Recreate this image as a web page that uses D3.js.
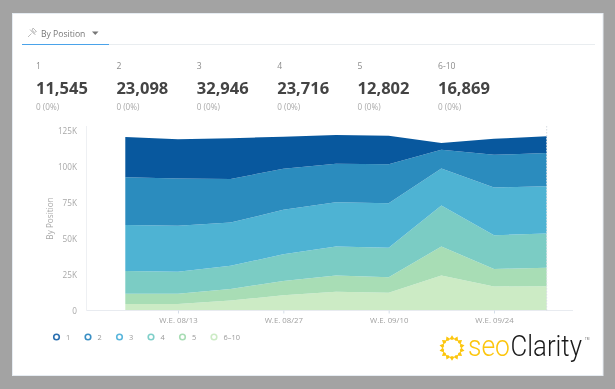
<!DOCTYPE html>
<html><head><meta charset="utf-8">
<script src="https://cdn.jsdelivr.net/npm/d3@7"></script>
<style>
html,body{margin:0;padding:0;background:#a3a3a3;overflow:hidden}
svg{display:block;filter:blur(0.55px)}
text{font-family:"Open Sans",sans-serif}
</style></head><body>
<svg id="c" width="615" height="389"></svg>
<script>
const weeks = ["08/06","08/13","08/20","08/27","09/03","09/10","09/17","09/24","10/01"];
const tickWeeks = ["08/13","08/27","09/10","09/24"];
const seriesNames = ["6-10","5","4","3","2","1"];
const legendNames = ["1","2","3","4","5","6–10"];
const s610 = [4.6,4.6,6.9,10.6,13.0,12.3,24.3,16.7,16.869];
const s5   = [7.0,7.0,8.1,9.8,11.3,10.8,20.1,12.2,12.802];
const s4   = [15.9,15.3,16.0,18.7,20.1,20.4,28.5,23.4,23.716];
const s3   = [31.8,31.9,30.1,30.8,30.8,31.0,25.7,33.1,32.946];
const s2   = [33.3,32.9,30.3,28.5,26.7,27.1,13.0,22.7,23.098];
const s1   = [27.8,27.3,28.3,22.2,19.9,19.7,4.8,11.1,11.545];
const colors = ["#ccebc5","#a8ddb5","#7bccc4","#4eb3d3","#2b8cbe","#08589e"];
const legendColors = ["#2a6fb0","#3a8fc4","#5ab6dc","#7fcfc9","#a8ddb5","#ccebc5"];
const summaryLabels = ["1","2","3","4","5","6-10"];
const summaryValues = ["11,545","23,098","32,946","23,716","12,802","16,869"];
const summaryChange = ["0 (0%)","0 (0%)","0 (0%)","0 (0%)","0 (0%)","0 (0%)"];
const yTicks = [0,25,50,75,100,125];

const svg = d3.select("#c");
// card
svg.append("rect").attr("x",12.5).attr("y",13.5).attr("width",590.5).attr("height",362)
  .attr("fill","#fff").attr("stroke","#e6ecf2").attr("stroke-width",1);

// tab header
svg.append("path").attr("d","M28 37l3.5-3.5M30 29.5l5.5 5.5M33 28l3.5 3.5-2 .8-2.3-2.3zM31 30.5l3.5 3.5")
  .attr("fill","none").attr("stroke","#b5b5b5").attr("stroke-width",0.9);
svg.append("text").attr("x",41).attr("y",37).attr("font-size",8.6).attr("fill","#777").text("By Position");
svg.append("path").attr("d","M92 31.5h6.5l-3.25 3.5z").attr("fill","#777");
svg.append("line").attr("x1",22).attr("x2",595).attr("y1",44.5).attr("y2",44.5).attr("stroke","#e9edf0");
svg.append("line").attr("x1",22).attr("x2",109).attr("y1",44.5).attr("y2",44.5).attr("stroke","#4aa3ea").attr("stroke-width",1.2);

// summary row
const colX = d3.scalePoint().domain(summaryLabels).range([36,438]);
summaryLabels.forEach((l,i)=>{
  const g = svg.append("g").attr("transform",`translate(${colX(l)},0)`);
  g.append("text").attr("y",69).attr("font-size",8.6).attr("fill","#8c8c8c").text(l);
  g.append("text").attr("y",94).attr("font-size",16.5).attr("font-weight",700).attr("fill","#444").text(summaryValues[i]);
  g.append("text").attr("y",110).attr("font-size",8.2).attr("fill","#aaa").text(summaryChange[i]);
});

// chart
const x = d3.scalePoint().domain(weeks).range([125.3,546.7]);
const y = d3.scaleLinear().domain([0,125]).range([310.5,130.5]);
const rows = weeks.map((w,i)=>({w,"6-10":s610[i],"5":s5[i],"4":s4[i],"3":s3[i],"2":s2[i],"1":s1[i]}));
const stacked = d3.stack().keys(seriesNames)(rows);
const area = d3.area().x(d=>x(d.data.w)).y0(d=>y(d[0])).y1(d=>y(d[1]));
svg.append("g").selectAll("path").data(stacked).join("path")
  .attr("d",area).attr("fill",(d,i)=>colors[i]);

// axes lines
svg.append("line").attr("x1",86.5).attr("x2",86.5).attr("y1",126).attr("y2",310.5).attr("stroke","#eef0f3");
svg.append("line").attr("x1",86.5).attr("x2",573).attr("y1",310.5).attr("y2",310.5).attr("stroke","#e8ebf0");
svg.append("line").attr("x1",546.7).attr("x2",546.7).attr("y1",126).attr("y2",310.5)
  .attr("stroke","#d8dde2").attr("stroke-dasharray","1.5,1.5");

const yAxis = d3.axisLeft(y).tickValues(yTicks).tickSize(0).tickPadding(0)
  .tickFormat(d=>d===0?"0":d+"K");
const yg = svg.append("g").attr("transform","translate(77,0)").call(yAxis);
yg.select(".domain").remove();
yg.selectAll("text").attr("font-size",8.2).attr("fill","#a8a8a8").attr("font-family","'Open Sans',sans-serif");

svg.append("text").attr("transform","translate(53,218.5) rotate(-90)").attr("text-anchor","middle")
  .attr("font-size",8.2).attr("fill","#a8a8a8").text("By Position");

const xAxis = d3.axisBottom(x).tickValues(tickWeeks).tickSize(3).tickPadding(4).tickFormat(d=>"W.E. "+d);
const xg = svg.append("g").attr("transform","translate(0,310.5)").call(xAxis);
xg.select(".domain").remove();
xg.selectAll("line").attr("stroke","#d5dee8");
xg.selectAll("text").attr("font-size",7.8).attr("fill","#a0a0a0").attr("font-family","'Open Sans',sans-serif");

// legend
const legX = d3.scalePoint().domain(legendNames).range([56.5,214]);
legendNames.forEach((n,i)=>{
  svg.append("circle").attr("cx",legX(n)).attr("cy",337).attr("r",2.8)
    .attr("fill","#fff").attr("stroke",legendColors[i]).attr("stroke-width",1.6);
  svg.append("text").attr("x",legX(n)+9.5).attr("y",340).attr("font-size",7.4).attr("fill","#999").text(n);
});

// logo
const sun = svg.append("g").attr("transform","translate(452,348)");
d3.range(14).forEach(i=>{
  const a = i*360/14;
  sun.append("path").attr("d","M-3.4,-7.6L0,-12.8L3.4,-7.6L1.9,-9L0,-8L-1.9,-9Z")
    .attr("transform",`rotate(${a})`).attr("fill","#fcc60e");
});
function logoWord(str, left, width, fill){
  const t = svg.append("text").attr("font-size",29).attr("font-weight",300).attr("fill",fill)
    .style("font-family","Roboto,sans-serif").text(str);
  const k = width / t.node().getComputedTextLength();
  t.attr("transform",`translate(${left},356) scale(${k},1)`);
}
logoWord("seo",468,42,"#fcc60e");
logoWord("Clarity",510.5,71.5,"#1a1a1a");
svg.append("text").attr("x",585).attr("y",340).attr("font-size",3).attr("fill","#666").text("TM");
</script>
</body></html>
